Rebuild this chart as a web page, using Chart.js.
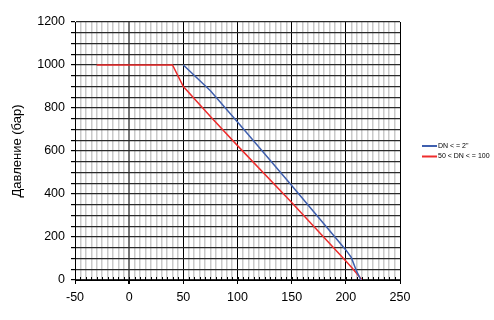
<!DOCTYPE html>
<html><head><meta charset="utf-8">
<script src="https://cdn.jsdelivr.net/npm/chart.js@4"></script>
<style>html,body{margin:0;padding:0;background:#fff}#c{display:block}</style>
</head><body>
<div style="width:494px;height:320px"><canvas id="c" width="494" height="320"></canvas></div>
<script>
const seriesNames = ['DN < = 2"', '50 < DN < = 100'];
const blueX = [50, 75, 100, 150, 200, 205, 210, 214];
const blueY = [1000, 880, 735, 440, 140, 105, 40, 0];
const redX = [-30, 40, 50, 75, 100, 150, 200, 206, 215];
const redY = [1000, 1000, 900, 760, 625, 360, 88, 55, 0];
const xTickLabels = [-50, 0, 50, 100, 150, 200, 250];
const yTickLabels = [0, 200, 400, 600, 800, 1000, 1200];
const colors = ['#3f5fae', '#ee2d2d'];

const toPts = (xs, ys) => xs.map((x, i) => ({x, y: ys[i]}));
const FONT = '"Liberation Sans", Arial, sans-serif';

const legendPlugin = {
  id: 'manualLegend',
  afterDraw(chart) {
    const ctx = chart.ctx;
    ctx.save();
    ctx.font = '7px ' + FONT;
    ctx.textBaseline = 'middle';
    chart.data.datasets.forEach((ds, i) => {
      const y = 146 + i * 10.5;
      ctx.strokeStyle = ds.borderColor;
      ctx.lineWidth = 2;
      ctx.beginPath(); ctx.moveTo(422, y); ctx.lineTo(437, y); ctx.stroke();
      ctx.fillStyle = '#000';
      ctx.fillText(ds.label, 438, y);
    });
    ctx.restore();
  }
};
const innerTicks = {
  id: 'innerTicks',
  afterDatasetsDraw(chart) {
    const ctx = chart.ctx, xs = chart.scales.x, a = chart.chartArea;
    ctx.save();
    ctx.strokeStyle = '#000'; ctx.lineWidth = 1;
    xs.ticks.forEach(t => {
      const px = Math.round(xs.getPixelForValue(t.value)) + 0.5;
      ctx.beginPath(); ctx.moveTo(px, a.bottom); ctx.lineTo(px, a.bottom - 3); ctx.stroke();
    });
    ctx.restore();
  }
};

new Chart(document.getElementById('c'), {
  type: 'line',
  data: {
    datasets: [
      {label: seriesNames[0], data: toPts(blueX, blueY), borderColor: colors[0], borderWidth: 1.5, pointRadius: 0, tension: 0, fill: false},
      {label: seriesNames[1], data: toPts(redX, redY), borderColor: colors[1], borderWidth: 1.5, pointRadius: 0, tension: 0, fill: false}
    ]
  },
  options: {
    responsive: false, animation: false,
    layout: {padding: {left: 0, right: 94, top: 22, bottom: 0}},
    plugins: {legend: {display: false}, tooltip: {enabled: false}},
    scales: {
      x: {
        type: 'linear', min: -50, max: 250,
        afterFit: s => { s.height = 40; },
        afterBuildTicks: s => { const t = []; for (let v = -50; v <= 250; v += 5) t.push({value: v}); s.ticks = t; },
        ticks: {autoSkip: false, maxRotation: 0, color: '#000', padding: 6,
          font: {family: FONT, size: 12.5},
          callback: v => xTickLabels.includes(v) ? String(v) : ''},
        grid: {
          color: c => c.tick && c.tick.value === 0 ? '#777' : (c.tick && c.tick.value % 50 === 0 ? '#000' : '#cacaca'),
          lineWidth: c => c.tick && c.tick.value === 0 ? 2 : (c.tick && c.tick.value % 50 === 0 ? 1 : 1.5),
          tickColor: c => c.tick && c.tick.value % 50 === 0 ? '#000' : 'rgba(0,0,0,0)',
          tickLength: 4
        },
        border: {color: '#000', width: 1}
      },
      y: {
        type: 'linear', min: 0, max: 1200,
        afterFit: s => { s.width = 75; },
        afterBuildTicks: s => { const t = []; for (let v = 0; v <= 1200; v += 50) t.push({value: v}); s.ticks = t; },
        ticks: {autoSkip: false, color: '#000', padding: 6,
          font: {family: FONT, size: 12.5},
          callback: v => yTickLabels.includes(v) ? String(v) : ''},
        grid: {color: '#2a2a2a', lineWidth: 1.2, tickColor: '#000', tickLength: 4},
        border: {color: '#000', width: 1},
        title: {display: true, text: 'Давление (бар)', color: '#000', padding: {top: 10, bottom: 0},
          font: {family: FONT, size: 13}}
      }
    }
  },
  plugins: [legendPlugin, innerTicks]
});
</script>
</body></html>
